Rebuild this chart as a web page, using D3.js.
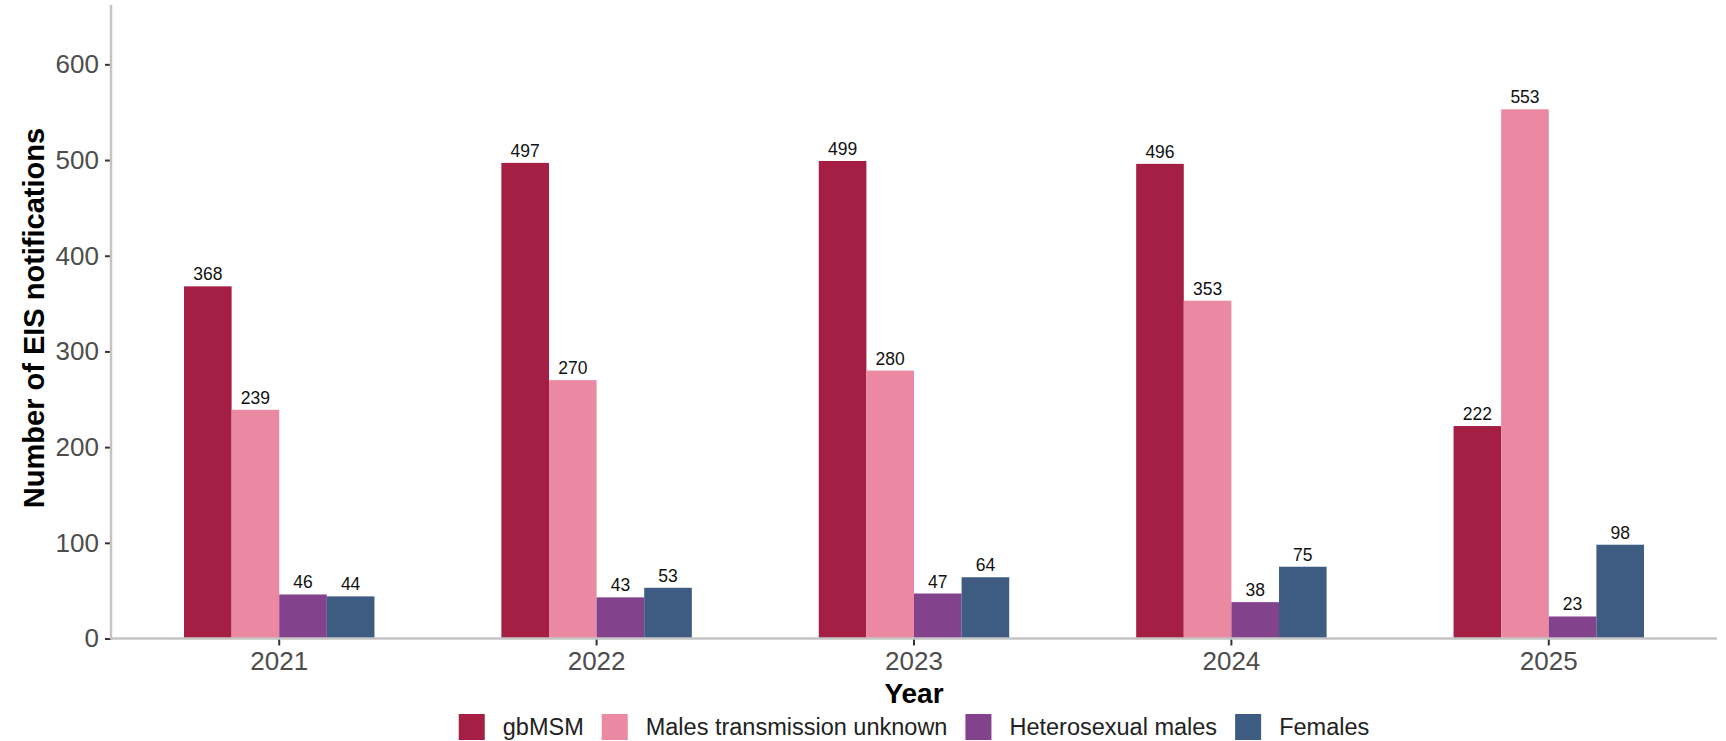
<!DOCTYPE html>
<html><head><meta charset="utf-8">
<script src="https://cdn.jsdelivr.net/npm/d3@7"></script>
<style>body{margin:0;background:#fff}text{font-family:"Liberation Sans",Arial,sans-serif}</style>
</head><body>
<svg id="c" width="1726" height="741"></svg>
<script>
const years = ["2021","2022","2023","2024","2025"];
const seriesNames = ["gbMSM","Males transmission unknown","Heterosexual males","Females"];
const gbMSM = [368,497,499,496,222];
const malesUnknown = [239,270,280,353,553];
const heteroMales = [46,43,47,38,23];
const females = [44,53,64,75,98];
const yTicks = [0,100,200,300,400,500,600];
const colors = ["#A51E43","#EC89A2","#82428C","#3E5B82"];
const seriesValues = [gbMSM, malesUnknown, heteroMales, females];

const svg = d3.select("#c");
const mLeft = 111, mRight = 1717, mTop = 5, mBottom = 638.5;

const x = d3.scaleBand().domain(years).range([mLeft, mRight]).paddingOuter(0.03).paddingInner(0);
const xs = d3.scaleBand().domain(seriesNames)
  .range([x.bandwidth()*0.2, x.bandwidth()*0.8]).paddingOuter(0).paddingInner(0);
const y = d3.scaleLinear().domain([0, 662]).range([mBottom, mTop]);

// bars
seriesNames.forEach((s, si) => {
  const data = years.map((yr, i) => ({yr, v: seriesValues[si][i]}));
  svg.append("g").selectAll("rect").data(data).join("rect")
    .attr("x", d => x(d.yr) + xs(s))
    .attr("width", xs.bandwidth())
    .attr("y", d => y(d.v))
    .attr("height", d => y(0) - y(d.v))
    .attr("fill", colors[si]);
  svg.append("g").selectAll("text").data(data).join("text")
    .attr("x", d => x(d.yr) + xs(s) + xs.bandwidth()/2)
    .attr("y", d => y(d.v) - 6)
    .attr("text-anchor", "middle")
    .attr("font-size", 17.5)
    .attr("fill", "#111")
    .text(d => d.v);
});

// axes
const yAxis = svg.append("g").attr("transform", `translate(${mLeft},0)`)
  .call(d3.axisLeft(y).tickValues(yTicks).tickSize(6).tickPadding(6));
yAxis.select(".domain").remove();
yAxis.selectAll(".tick line").attr("stroke", "#333").attr("stroke-width", 2);
yAxis.selectAll(".tick text").attr("font-size", 26).attr("fill", "#4d4d4d").attr("font-family", "Liberation Sans, Arial, sans-serif");
svg.append("line").attr("x1", mLeft).attr("x2", mLeft).attr("y1", mTop).attr("y2", mBottom+1)
  .attr("stroke", "#c4c4c4").attr("stroke-width", 2.5);

const xAxis = svg.append("g").attr("transform", `translate(0,${mBottom})`)
  .call(d3.axisBottom(x).tickSize(7).tickPadding(6));
xAxis.select(".domain").remove();
xAxis.selectAll(".tick line").attr("stroke", "#333").attr("stroke-width", 2);
xAxis.selectAll(".tick text").attr("font-size", 26).attr("fill", "#4d4d4d").attr("font-family", "Liberation Sans, Arial, sans-serif");
svg.append("line").attr("x1", mLeft).attr("x2", mRight).attr("y1", mBottom).attr("y2", mBottom)
  .attr("stroke", "#c4c4c4").attr("stroke-width", 2.5);

// titles
svg.append("text").attr("transform", `translate(44,318) rotate(-90)`)
  .attr("text-anchor", "middle").attr("font-size", 29).attr("font-weight", "bold").attr("fill", "#000")
  .text("Number of EIS notifications");
svg.append("text").attr("x", (mLeft+mRight)/2).attr("y", 703)
  .attr("text-anchor", "middle").attr("font-size", 28).attr("font-weight", "bold").attr("fill", "#000")
  .text("Year");

// legend
const lg = svg.append("g");
let cx = 0;
seriesNames.forEach((s, i) => {
  const g = lg.append("g");
  g.append("rect").attr("x", 0).attr("y", 0).attr("width", 26).attr("height", 26).attr("fill", colors[i]);
  const t = g.append("text").attr("x", 44).attr("y", 21).attr("font-size", 23.5).attr("fill", "#222").text(s);
  const w = 44 + t.node().getComputedTextLength();
  g.attr("transform", `translate(${cx},714)`);
  cx += w + 18;
});
const totalW = cx - 18;
lg.attr("transform", `translate(${(mLeft+mRight)/2 - totalW/2},0)`);
</script>
</body></html>
